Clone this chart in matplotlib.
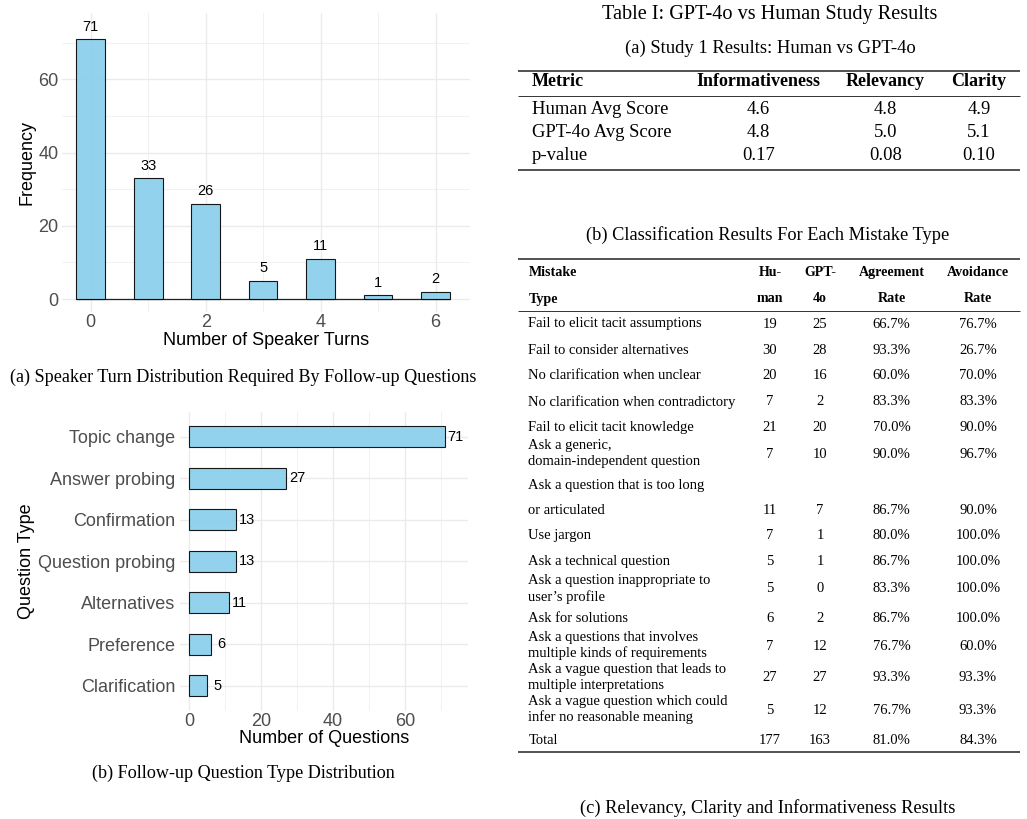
import matplotlib
matplotlib.use('Agg')
import matplotlib.pyplot as plt

# ---------------- data ----------------
turns = [0, 1, 2, 3, 4, 5, 6]
turn_freq = [71, 33, 26, 5, 11, 1, 2]

qtypes = ['Topic change', 'Answer probing', 'Confirmation', 'Question probing',
          'Alternatives', 'Preference', 'Clarification']
qcounts = [71, 27, 13, 13, 11, 6, 5]

t1_header = ['Metric', 'Informativeness', 'Relevancy', 'Clarity']
t1_rows = ['Human Avg Score', 'GPT-4o Avg Score', 'p-value']
t1_inform = ['4.6', '4.8', '0.17']
t1_relev = ['4.8', '5.0', '0.08']
t1_clarity = ['4.9', '5.1', '0.10']

t2_header1 = ['Mistake', 'Hu-', 'GPT-', 'Agreement', 'Avoidance']
t2_header2 = ['Type', 'man', '4o', 'Rate', 'Rate']
t2_types = ['Fail to elicit tacit assumptions',
            'Fail to consider alternatives',
            'No clarification when unclear',
            'No clarification when contradictory',
            'Fail to elicit tacit knowledge',
            'Ask a generic,\ndomain-independent question',
            'Ask a question that is too long\nor articulated',
            'Use jargon',
            'Ask a technical question',
            'Ask a question inappropriate to\nuser\u2019s profile',
            'Ask for solutions',
            'Ask a questions that involves\nmultiple kinds of requirements',
            'Ask a vague question that leads to\nmultiple interpretations',
            'Ask a vague question which could\ninfer no reasonable meaning',
            'Total']
t2_human = [19, 30, 20, 7, 21, 7, 11, 7, 5, 5, 6, 7, 27, 5, 177]
t2_gpt = [25, 28, 16, 2, 20, 10, 7, 1, 1, 0, 2, 12, 27, 12, 163]
t2_agree = [66.7, 93.3, 60.0, 83.3, 70.0, 90.0, 86.7, 80.0, 86.7, 83.3, 86.7, 76.7, 93.3, 76.7, 81.0]
t2_avoid = [76.7, 26.7, 70.0, 83.3, 90.0, 96.7, 90.0, 100.0, 100.0, 100.0, 100.0, 60.0, 93.3, 93.3, 84.3]

# ---------------- layout ----------------
W, H = 1027, 819
SANS = 'Liberation Sans'
SERIF = 'Liberation Serif'
BAR = '#87CEEB'
GRID = '#EBEBEB'
TICKC = '#4D4D4D'

fig = plt.figure(figsize=(W / 100, H / 100), dpi=100)


def rect(l, t, r, b):
    return [l / W, 1 - b / H, (r - l) / W, (b - t) / H]


# overlay for tables / captions in pixel coordinates
tab = fig.add_axes([0, 0, 1, 1])
tab.set_xlim(0, W)
tab.set_ylim(H, 0)
tab.axis('off')
tab.patch.set_alpha(0)


def style_axes(ax):
    for s in ax.spines.values():
        s.set_visible(False)
    ax.tick_params(which='both', length=0, labelcolor=TICKC, labelsize=13)
    ax.grid(which='major', color=GRID, lw=1.0, zorder=0)
    ax.grid(which='minor', color=GRID, lw=0.5, zorder=0)
    ax.set_axisbelow(True)
    for lab in ax.get_xticklabels() + ax.get_yticklabels():
        lab.set_family(SANS)


# ---------- chart (a) ----------
ax1 = fig.add_axes(rect(62, 13, 470, 312))
ax1.bar(turns, turn_freq, width=0.5, color=BAR, alpha=0.9,
        edgecolor='black', linewidth=0.8, zorder=3)
ax1.hlines(0, turns[0] - 0.25, turns[-1] + 0.25, color='#222222', lw=0.9, zorder=2.9)
for x, v in zip(turns, turn_freq):
    ax1.text(x, v + 3.4, str(v), ha='center', va='center', fontsize=10.5,
             family=SANS, color='black', zorder=4)
ax1.set_xlim(-0.5, 6.6)
ax1.set_ylim(-3.55, 78.1)
ax1.set_xticks([0, 2, 4, 6])
ax1.set_xticks([1, 3, 5], minor=True)
ax1.set_yticks([0, 20, 40, 60])
ax1.set_yticks([10, 30, 50, 70], minor=True)
style_axes(ax1)
ax1.tick_params(axis='x', pad=1.5)
ax1.tick_params(axis='y', pad=2.5)
ax1.set_xlabel('Number of Speaker Turns', family=SANS, fontsize=13)
ax1.set_ylabel('Frequency', family=SANS, fontsize=13)
ax1.xaxis.set_label_coords(0.5, -0.068)
ax1.yaxis.set_label_coords(-0.064, 0.5)

# ---------- chart (b) ----------
ax2 = fig.add_axes(rect(180, 411.7, 468, 710.6))
ypos = list(range(len(qtypes), 0, -1))
ax2.barh(ypos, qcounts, height=0.5, color=BAR, alpha=0.9,
         edgecolor='black', linewidth=0.8, zorder=3)
for y, v in zip(ypos, qcounts):
    ax2.text(v + 3.0, y, str(v), ha='center', va='center', fontsize=10.5,
             family=SANS, color='black', zorder=4)
ax2.set_xlim(-2.5, 77.5)
ax2.set_ylim(0.4, 7.6)
ax2.set_xticks([0, 20, 40, 60])
ax2.set_xticks([10, 30, 50, 70], minor=True)
ax2.set_yticks(ypos)
ax2.set_yticklabels(qtypes)
style_axes(ax2)
ax2.tick_params(axis='x', pad=1.5)
ax2.tick_params(axis='y', pad=3.5)
ax2.set_xlabel('Number of Questions', family=SANS, fontsize=13)
ax2.set_ylabel('Question Type', family=SANS, fontsize=13)
ax2.xaxis.set_label_coords(0.5, -0.065)
ax2.yaxis.set_label_coords(-0.502, 0.5)

# ---------- captions left ----------
tab.text(243, 377, '(a) Speaker Turn Distribution Required By Follow-up Questions',
         ha='center', va='center', family=SERIF, fontsize=13.1)
tab.text(243, 773, '(b) Follow-up Question Type Distribution',
         ha='center', va='center', family=SERIF, fontsize=13.1)

# ---------- Table I ----------
tab.text(770, 15, 'Table I: GPT-4o vs Human Study Results', ha='center', va='center',
         family=SERIF, fontsize=14.6)
tab.text(770, 48.3, '(a) Study 1 Results: Human vs GPT-4o', ha='center', va='center',
         family=SERIF, fontsize=13.4)

RULE = '#333333'
XL, XR = 518, 1020


def rule(y, lw):
    tab.plot([XL, XR], [y, y], color=RULE, lw=lw, solid_capstyle='butt')


rule(70.7, 1.2)
rule(96, 0.7)
rule(170, 1.2)

t1_cols = [758.3, 885.5, 979]
tab.text(531.7, 81.7, t1_header[0], ha='left', va='center', family=SERIF,
         fontsize=13, fontweight='bold')
for cx, h in zip(t1_cols, t1_header[1:]):
    tab.text(cx, 81.7, h, ha='center', va='center', family=SERIF,
             fontsize=13, fontweight='bold')
t1_y = [109, 132.7, 156]
for i, y in enumerate(t1_y):
    tab.text(531.7, y, t1_rows[i], ha='left', va='center', family=SERIF, fontsize=13.4)
    for cx, col in zip(t1_cols, [t1_inform, t1_relev, t1_clarity]):
        tab.text(cx, y, col[i], ha='center', va='center', family=SERIF, fontsize=13.4)

# ---------- Table (b) ----------
tab.text(768, 235, '(b) Classification Results For Each Mistake Type', ha='center',
         va='center', family=SERIF, fontsize=13.25)
rule(259, 1.2)
rule(311, 0.7)
rule(752.3, 1.2)

t2_cols = [770, 820, 891.7, 978]
for y, hdr in [(272.7, t2_header1), (299, t2_header2)]:
    tab.text(528.3, y, hdr[0], ha='left', va='center', family=SERIF, fontsize=10.1,
             fontweight='bold')
    for cx, h in zip(t2_cols, hdr[1:]):
        tab.text(cx, y, h, ha='center', va='center', family=SERIF, fontsize=10.1,
                 fontweight='bold')

row_lines = [[324], [350], [375.7], [401.7], [427.3], [445, 461.7], [485, 510],
             [535.7], [561.7], [580.7, 596.7], [618.3], [637.7, 653.3],
             [669.3, 685.7], [701.7, 717.3], [740]]
value_y = [324, 350, 375.7, 401.7, 427.3, 454, 510, 535.7, 561.7, 589, 618.3,
           646.7, 677.7, 710, 740]

for i, label in enumerate(t2_types):
    for line, y in zip(label.split('\n'), row_lines[i]):
        tab.text(528.3, y, line, ha='left', va='center', family=SERIF, fontsize=10.5)
    vals = [str(t2_human[i]), str(t2_gpt[i]), f'{t2_agree[i]:.1f}%', f'{t2_avoid[i]:.1f}%']
    for cx, v in zip(t2_cols, vals):
        tab.text(cx, value_y[i], v, ha='center', va='center', family=SERIF, fontsize=10.5)

tab.text(768, 813, '(c) Relevancy, Clarity and Informativeness Results', ha='center',
         va='baseline', family=SERIF, fontsize=13.25)

fig.savefig('out.png', dpi=100)
